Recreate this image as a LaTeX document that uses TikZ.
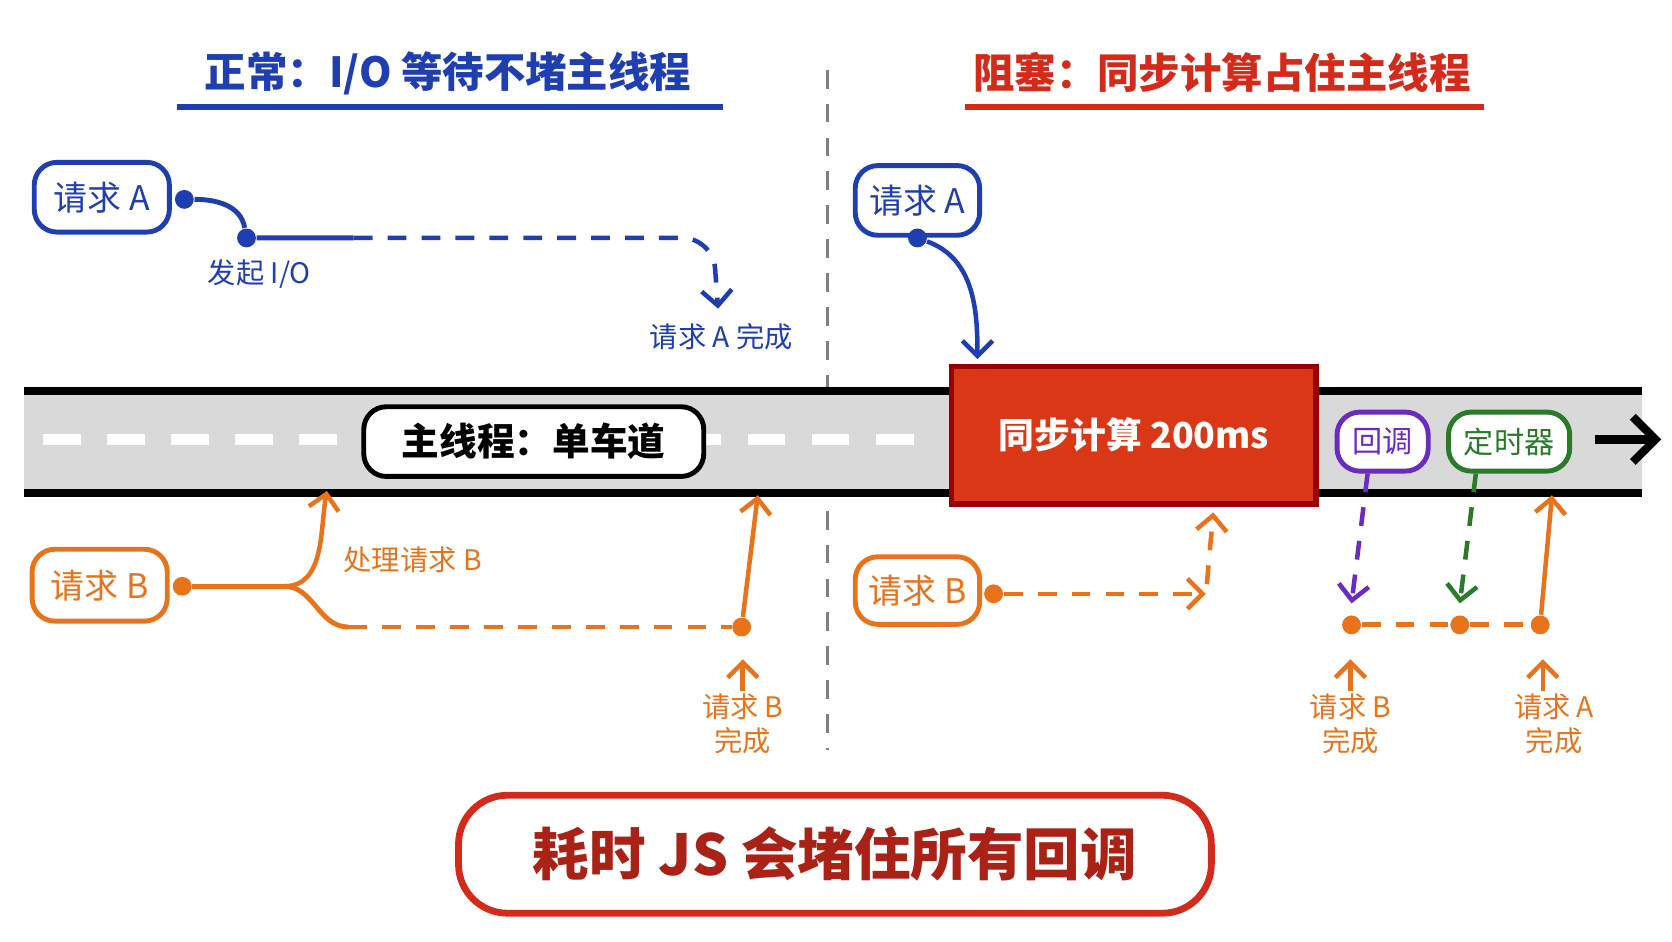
\documentclass[tikz,border=0pt]{standalone}
\usepackage{fontspec}
\setmainfont{Noto Sans CJK SC}
\usetikzlibrary{arrows.meta}
\definecolor{cblue}{HTML}{1F3FB0}
\definecolor{corange}{HTML}{E8731A}
\definecolor{cred}{HTML}{D42A1A}
\definecolor{cpurple}{HTML}{6A2BC0}
\definecolor{cgreen}{HTML}{2A7A2A}
\tikzset{
  box/.style={draw,rounded corners=6pt,line width=1.3pt,fill=white,inner sep=0pt},
  lbl/.style={font=\fontsize{7.5}{9}\selectfont,align=center},
  dot/.style={circle,fill,inner sep=0pt,minimum size=5pt},
  arr/.style={->,>={Straight Barb[length=4pt]},line width=1.2pt},
  dsh/.style={dash pattern=on 5pt off 4pt}
}
\begin{document}
\begin{tikzpicture}[x=0.01cm,y=-0.01cm]
	\useasboundingbox (0,0) rectangle (1560,878);
	% titles
	\node[text=cblue,font=\fontsize{11}{13}\selectfont\bfseries] (tl) at (418,68) {正常：I/O 等待不堵主线程};
	\draw[cblue,line width=1.5pt] (165,100)--(675,100);
	\node[text=cred,font=\fontsize{11}{13}\selectfont\bfseries] (tr) at (1140,68) {阻塞：同步计算占住主线程};
	\draw[cred,line width=1.5pt] (900,100)--(1385,100);
	\draw[gray,dsh,line width=0.8pt] (772,65)--(772,700);
	% road
	\fill[gray!30] (22,365) rectangle (1532,460);
	\draw[line width=2pt] (22,365)--(1532,365);
	\draw[line width=2pt] (22,460)--(1532,460);
	\draw[white,line width=3pt,dash pattern=on 10pt off 7pt] (40,410)--(870,410);
	\coordinate (e1) at (1488,410);
	\coordinate (e2) at (1550,410);
	\draw[->,>={Straight Barb[length=6pt]},line width=2.2pt] (e1)--(e2);
	\node[box,minimum width=3.17cm,minimum height=0.65cm,font=\fontsize{10}{12}\selectfont\bfseries] (lane) at (498,412) {主线程：单车道};
	\node[draw=red!60!black,line width=1.5pt,fill=cred!85!orange,text=white,minimum width=3.4cm,minimum height=1.28cm,font=\fontsize{9.5}{12}\selectfont\bfseries] (sync) at (1058,406) {同步计算 200ms};
	\node[box,draw=cpurple,text=cpurple,minimum width=0.85cm,minimum height=0.55cm,font=\fontsize{8}{10}\selectfont] (cb) at (1290,412) {回调};
	\node[box,draw=cgreen,text=cgreen,minimum width=1.13cm,minimum height=0.55cm,font=\fontsize{8}{10}\selectfont] (tm) at (1408,412) {定时器};
	% left: request A
	\node[box,draw=cblue,text=cblue,minimum width=1.26cm,minimum height=0.65cm,font=\fontsize{9}{11}\selectfont] (la) at (95,184) {请求 A};
	\node[dot,cblue] (la1) at (172,186) {};
	\node[dot,cblue] (la2) at (230,222) {};
	\coordinate (la3) at (330,222);
	\coordinate (la4) at (670,288);
	\draw[cblue,line width=1.3pt] (la1) to[out=0,in=100] (la2) -- (la3);
	\draw[cblue,arr,dsh,rounded corners=8pt] (la3) -- (665,222) -- (la4);
	\node[lbl,text=cblue] (la5) at (242,256) {发起 I/O};
	\node[lbl,text=cblue] (la6) at (673,314) {请求 A 完成};
	% left: request B
	\node[box,draw=corange,text=corange,minimum width=1.26cm,minimum height=0.67cm,font=\fontsize{9}{11}\selectfont] (lb) at (93,546) {请求 B};
	\node[dot,corange] (lb1) at (170,547) {};
	\coordinate (lb2) at (265,547);
	\coordinate (lb3) at (305,458);
	\coordinate (lb4) at (325,585);
	\node[dot,corange] (lb5) at (692,585) {};
	\coordinate (lb6) at (707,462);
	\draw[corange,line width=1.3pt] (lb1)--(lb2);
	\draw[corange,arr] (lb2) to[out=0,in=260] (lb3);
	\draw[corange,line width=1.3pt] (lb2) to[out=0,in=180] (lb4);
	\draw[corange,line width=1.3pt,dsh] (lb4)--(lb5);
	\draw[corange,arr] (lb5)--(lb6);
	\node[lbl,text=corange] (lb7) at (385,522) {处理请求 B};
	\node[lbl,text=corange] (lb8) at (693,675) {请求 B\\完成};
	\draw[corange,arr] ([yshift=-3]lb8.north) -- ++(0,-30);
	% right: request A
	\node[box,draw=cblue,text=cblue,minimum width=1.16cm,minimum height=0.65cm,font=\fontsize{9}{11}\selectfont] (ra) at (856,187) {请求 A};
	\node[dot,cblue] (ra1) at (856,222) {};
	\coordinate (ra2) at (912,335);
	\draw[cblue,arr] (ra1) to[out=-20,in=90] (ra2);
	% right: request B
	\node[box,draw=corange,text=corange,minimum width=1.16cm,minimum height=0.63cm,font=\fontsize{9}{11}\selectfont] (rb) at (856,551) {请求 B};
	\node[dot,corange] (rb1) at (927,554) {};
	\coordinate (rb2) at (1125,554);
	\draw[corange,arr,dsh] (rb1)--(rb2);
	\coordinate (rb3) at (1126,545);
	\coordinate (rb4) at (1132,478);
	\draw[corange,arr,dsh] (rb3)--(rb4);
	% callbacks
	\node[dot,corange] (d1) at (1261,583) {};
	\node[dot,corange] (d2) at (1362,583) {};
	\node[dot,corange] (d3) at (1437,583) {};
	\draw[cpurple,arr,dsh] (cb.south -| 1276,0) -- ([yshift=3pt]d1.north);
	\draw[cgreen,arr,dsh] (tm.south -| 1377,0) -- ([yshift=3pt]d2.north);
	\draw[corange,line width=1.3pt,dsh] (d1)--(d2)--(d3);
	\coordinate (d4) at (1448,462);
	\draw[corange,arr] (d3)--(d4);
	\node[lbl,text=corange] (r1) at (1260,675) {请求 B\\完成};
	\node[lbl,text=corange] (r2) at (1450,675) {请求 A\\完成};
	\draw[corange,arr] ([yshift=-3]r1.north) -- ++(0,-30);
	\draw[corange,arr] ([xshift=-3pt,yshift=-3]r2.north) -- ++(0,-30);
	% bottom
	\node[box,draw=cred,text=cred!80!black,line width=1.8pt,rounded corners=13pt,minimum width=7.02cm,minimum height=1.1cm,font=\fontsize{15}{18}\selectfont\bfseries] (msg) at (779,797) {耗时 JS 会堵住所有回调};
\end{tikzpicture}
\end{document}
